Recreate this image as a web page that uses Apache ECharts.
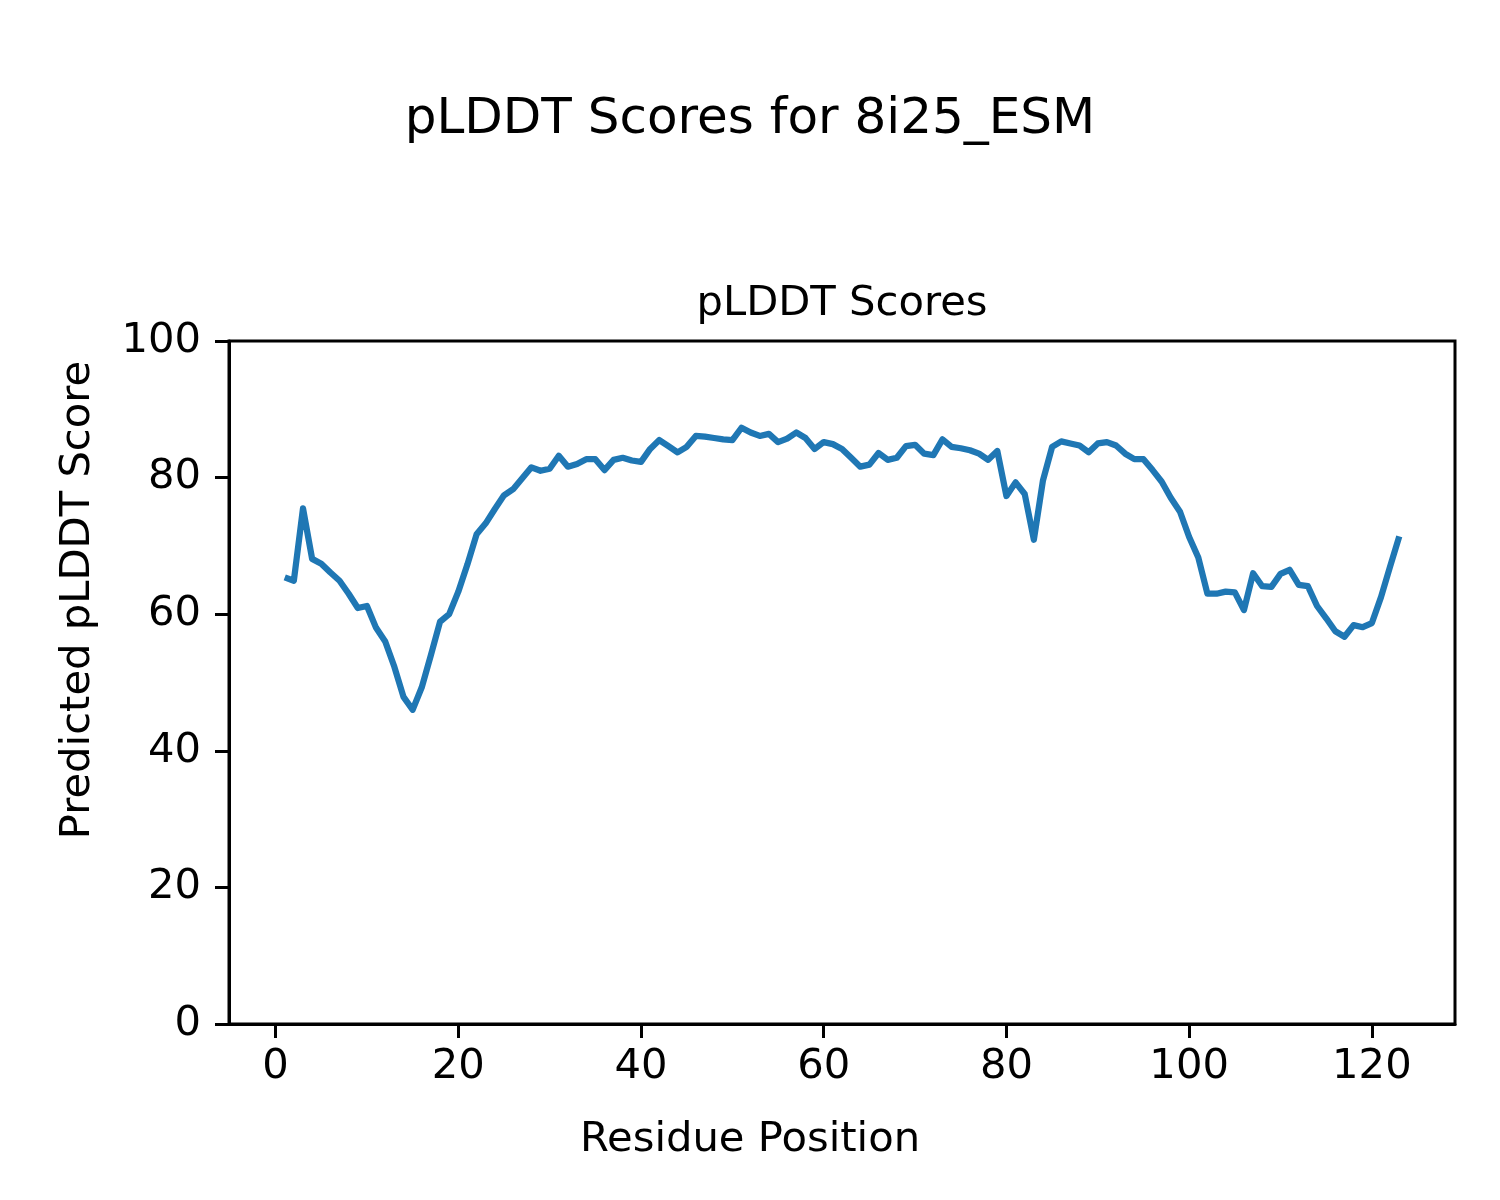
<!DOCTYPE html>
<html>
<head>
<meta charset="utf-8">
<script src="https://cdn.jsdelivr.net/npm/echarts@6/dist/echarts.min.js"></script>
<style>html,body{margin:0;padding:0;background:#fff}#c{width:1500px;height:1200px}</style>
</head>
<body>
<div id="c"></div>
<script>
const residues = Array.from({length: 123}, (_, i) => i + 1);
const plddt = [
65.4, 64.9, 75.5, 68.1, 67.4, 66.1, 64.9, 63.0, 60.9, 61.2,
58.0, 56.0, 52.3, 47.9, 46.0, 49.3, 54.0, 58.9, 60.0, 63.3,
67.3, 71.7, 73.3, 75.4, 77.4, 78.3, 79.9, 81.5, 81.0, 81.3,
83.2, 81.6, 82.0, 82.7, 82.7, 81.1, 82.6, 82.9, 82.5, 82.3,
84.2, 85.5, 84.6, 83.7, 84.5, 86.1, 86.0, 85.8, 85.6, 85.5,
87.3, 86.6, 86.1, 86.4, 85.2, 85.7, 86.6, 85.8, 84.2, 85.2,
84.9, 84.2, 82.9, 81.6, 81.9, 83.6, 82.6, 82.9, 84.6, 84.8,
83.5, 83.3, 85.6, 84.5, 84.3, 84.0, 83.5, 82.6, 83.9, 77.3,
79.3, 77.6, 70.9, 79.6, 84.5, 85.3, 85.0, 84.7, 83.7, 85.0,
85.2, 84.7, 83.5, 82.7, 82.7, 81.1, 79.4, 77.0, 75.0, 71.3,
68.3, 63.0, 63.0, 63.3, 63.2, 60.6, 66.0, 64.1, 64.0, 65.9,
66.5, 64.3, 64.1, 61.2, 59.4, 57.5, 56.7, 58.4, 58.1, 58.7,
62.5, 67.0, 71.4
];
const xTicks = [0, 20, 40, 60, 80, 100, 120];
const yTicks = [0, 20, 40, 60, 80, 100];
const suptitle = 'pLDDT Scores for 8i25_ESM';
const axTitle = 'pLDDT Scores';
const xLabel = 'Residue Position';
const yLabel = 'Predicted pLDDT Score';

const FONT = '"DejaVu Sans", sans-serif';
const chart = echarts.init(document.getElementById('c'), null, {renderer: 'canvas'});
chart.setOption({
  animation: false,
  backgroundColor: '#fff',
  grid: {left: 229, right: 45, top: 341, bottom: 176, show: true, borderColor: '#000', borderWidth: 3, backgroundColor: 'transparent'},
  xAxis: {
    type: 'value', min: -5.1, max: 129.1,
    splitLine: {show: false},
    axisLine: {show: true, onZero: false, lineStyle: {color: '#000', width: 3}},
    axisTick: {show: true, inside: false, length: 14, lineStyle: {color: '#000', width: 3}, customValues: xTicks},
    axisLabel: {color: '#000', fontSize: 41.7, fontFamily: FONT, margin: 22, customValues: xTicks, formatter: v => String(v)}
  },
  yAxis: {
    type: 'value', min: 0, max: 100, interval: 20,
    splitLine: {show: false},
    axisLine: {show: true, onZero: false, lineStyle: {color: '#000', width: 3}},
    axisTick: {show: true, inside: false, length: 14, lineStyle: {color: '#000', width: 3}, customValues: yTicks},
    axisLabel: {color: '#000', fontSize: 41.7, fontFamily: FONT, margin: 28, customValues: yTicks, formatter: v => String(v)}
  },
  graphic: [
    {type: 'text', x: 750, y: 120, style: {text: suptitle, font: '50px ' + FONT, fill: '#000', align: 'center', verticalAlign: 'middle'}},
    {type: 'text', x: 842, y: 304, style: {text: axTitle, font: '41.7px ' + FONT, fill: '#000', align: 'center', verticalAlign: 'middle'}},
    {type: 'text', x: 750, y: 1140, style: {text: xLabel, font: '41.7px ' + FONT, fill: '#000', align: 'center', verticalAlign: 'middle'}},
    {type: 'text', x: 78, y: 600, rotation: Math.PI / 2, style: {text: yLabel, font: '41.7px ' + FONT, fill: '#000', align: 'center', verticalAlign: 'middle'}}
  ],
  series: [{
    type: 'line',
    data: residues.map((r, i) => [r, plddt[i]]),
    showSymbol: false,
    symbol: 'none',
    lineStyle: {color: '#1f77b4', width: 6.25, join: 'round', cap: 'butt'},
    z: 3
  }]
});
</script>
</body>
</html>
